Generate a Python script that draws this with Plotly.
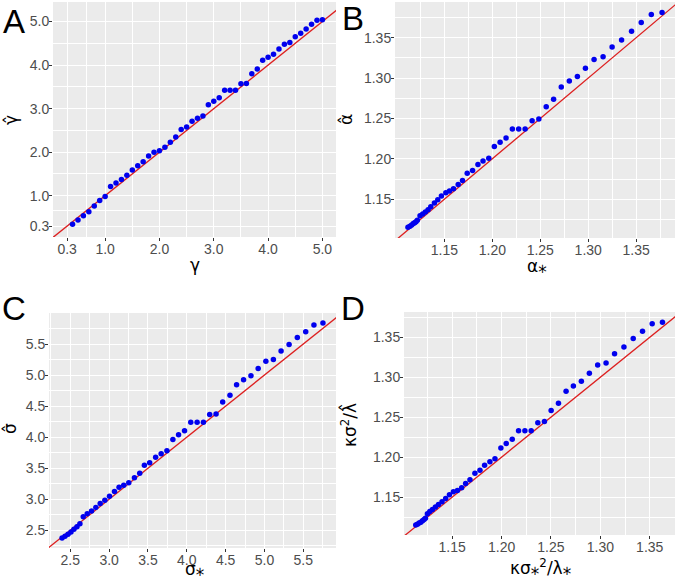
import plotly.graph_objects as go

# ---------------- data ----------------
gamma_true = [0.4, 0.5, 0.6, 0.7, 0.8, 0.9, 1.0, 1.1, 1.2, 1.3, 1.4, 1.5, 1.6, 1.7, 1.8, 1.9,
              2.0, 2.1, 2.2, 2.3, 2.4, 2.5, 2.6, 2.7, 2.8, 2.9, 3.0, 3.1, 3.2, 3.3, 3.4, 3.5,
              3.6, 3.7, 3.8, 3.9, 4.0, 4.1, 4.2, 4.3, 4.4, 4.5, 4.6, 4.7, 4.8, 4.9, 5.0]
gamma_hat = [0.345, 0.44, 0.54, 0.63, 0.76, 0.89, 0.98, 1.21, 1.29, 1.37, 1.47, 1.59, 1.69, 1.78,
             1.91, 2.00, 2.03, 2.11, 2.23, 2.35, 2.52, 2.58, 2.71, 2.78, 2.83, 3.09, 3.17, 3.25,
             3.42, 3.42, 3.42, 3.57, 3.58, 3.80, 3.91, 4.11, 4.18, 4.25, 4.37, 4.48, 4.52, 4.65,
             4.73, 4.83, 4.94, 5.03, 5.04]

alpha_true = [1.1120, 1.1141, 1.1159, 1.1176, 1.1190, 1.1204, 1.1218, 1.1246, 1.1274, 1.1302,
              1.1330, 1.1358, 1.1396, 1.1431, 1.1469, 1.1515, 1.1553, 1.1595, 1.1644, 1.1689,
              1.1738, 1.1794, 1.1850, 1.1903, 1.1963, 1.2021, 1.2081, 1.2143, 1.2209, 1.2275,
              1.2342, 1.2415, 1.2485, 1.2562, 1.2639, 1.2719, 1.2803, 1.2887, 1.2971, 1.3061,
              1.3155, 1.3249, 1.3348, 1.3452, 1.3553, 1.3658, 1.3770]
alpha_hat = [1.1152, 1.1164, 1.1181, 1.1198, 1.1210, 1.1222, 1.1239, 1.1296, 1.1317, 1.1342,
             1.1370, 1.1407, 1.1453, 1.1494, 1.1539, 1.1580, 1.1601, 1.1630, 1.1683, 1.1732,
             1.1823, 1.1856, 1.1930, 1.1972, 1.2006, 1.2152, 1.2206, 1.2259, 1.2370, 1.2370,
             1.2370, 1.2473, 1.2494, 1.2646, 1.2737, 1.2889, 1.2963, 1.3021, 1.3123, 1.3230,
             1.3263, 1.3386, 1.3473, 1.3580, 1.3688, 1.3786, 1.3811]

sigma_true = [2.394, 2.432, 2.471, 2.509, 2.547, 2.586, 2.624, 2.667, 2.718, 2.774, 2.829, 2.885,
              2.945, 3.005, 3.069, 3.128, 3.188, 3.253, 3.326, 3.394, 3.454, 3.522, 3.599, 3.670,
              3.744, 3.821, 3.894, 3.971, 4.051, 4.133, 4.214, 4.295, 4.377, 4.462, 4.556, 4.641,
              4.731, 4.826, 4.919, 5.018, 5.115, 5.214, 5.317, 5.423, 5.531, 5.637, 5.753]
sigma_hat = [2.377, 2.404, 2.436, 2.473, 2.516, 2.559, 2.607, 2.720, 2.768, 2.809, 2.869, 2.933,
             2.986, 3.050, 3.125, 3.194, 3.226, 3.264, 3.345, 3.418, 3.546, 3.590, 3.675, 3.734,
             3.782, 3.963, 4.038, 4.103, 4.242, 4.242, 4.242, 4.364, 4.375, 4.567, 4.674, 4.845,
             4.925, 4.989, 5.107, 5.224, 5.251, 5.389, 5.492, 5.604, 5.700, 5.806, 5.838]

ratio_true = [1.1131, 1.1148, 1.1165, 1.1182, 1.1199, 1.1215, 1.1229, 1.1249, 1.1273, 1.1300,
              1.1330, 1.1361, 1.1397, 1.1434, 1.1472, 1.1512, 1.1553, 1.1596, 1.1636, 1.1680,
              1.1730, 1.1781, 1.1828, 1.1882, 1.1933, 1.1993, 1.2047, 1.2108, 1.2172, 1.2236,
              1.2300, 1.2367, 1.2434, 1.2502, 1.2576, 1.2653, 1.2727, 1.2808, 1.2889, 1.2973,
              1.3058, 1.3144, 1.3239, 1.3333, 1.3427, 1.3525, 1.3629]
ratio_hat = [1.1150, 1.1162, 1.1175, 1.1187, 1.1204, 1.1220, 1.1237, 1.1291, 1.1320, 1.1345,
             1.1375, 1.1408, 1.1441, 1.1483, 1.1529, 1.1566, 1.1583, 1.1616, 1.1670, 1.1716,
             1.1800, 1.1837, 1.1900, 1.1941, 1.1979, 1.2116, 1.2170, 1.2225, 1.2329, 1.2329,
             1.2329, 1.2429, 1.2445, 1.2583, 1.2675, 1.2825, 1.2891, 1.2950, 1.3050, 1.3154,
             1.3179, 1.3295, 1.3379, 1.3483, 1.3575, 1.3670, 1.3688]

ticks_A = [0.3, 1.0, 2.0, 3.0, 4.0, 5.0]
labels_A = ["0.3", "1.0", "2.0", "3.0", "4.0", "5.0"]
ticks_B = [1.15, 1.20, 1.25, 1.30, 1.35]
labels_B = ["1.15", "1.20", "1.25", "1.30", "1.35"]
ticks_C = [2.5, 3.0, 3.5, 4.0, 4.5, 5.0, 5.5]
labels_C = ["2.5", "3.0", "3.5", "4.0", "4.5", "5.0", "5.5"]

# ---------------- layout helpers ----------------
W, H = 677, 579
BG = "#EBEBEB"
SANS = "Liberation Sans, Arial, sans-serif"
TICKFONT = dict(family=SANS, size=14, color="#4D4D4D")
TITLEFONT = dict(family="DejaVu Sans, " + SANS, size=17, color="black")


def xdom(p0, p1):
    return [p0 / W, p1 / W]


def ydom(p0, p1):
    return [1 - p1 / H, 1 - p0 / H]


def minors(vals, rng):
    out = [(a + b) / 2 for a, b in zip(vals[:-1], vals[1:])]
    step = vals[-1] - vals[-2]
    lo = vals[0] - (vals[1] - vals[0]) / 2
    hi = vals[-1] + step / 2
    if lo > rng[0]:
        out.insert(0, lo)
    if hi < rng[1]:
        out.append(hi)
    return out


panels = [
    dict(letter="A", x=gamma_true, y=gamma_hat, xpx=(53, 336), ypx=(2, 237),
         xr=[0.04, 5.25], yr=[0.05, 5.45], xt=(ticks_A, labels_A), yt=(ticks_A, labels_A),
         xtitle="γ", ytitle="γ\u0302", xtpos=(195, 265), ytpos=(11, 120), lpos=(14, 22)),
    dict(letter="B", x=alpha_true, y=alpha_hat, xpx=(395, 675), ypx=(2, 238),
         xr=[1.0985, 1.3905], yr=[1.1020, 1.3942], xt=(ticks_B, labels_B), yt=(ticks_B, labels_B),
         xtitle="α\u204e", ytitle="α\u0302", xtpos=(537, 266), ytpos=(346, 120), lpos=(353, 19)),
    dict(letter="C", x=sigma_true, y=sigma_hat, xpx=(49, 336), ypx=(313, 548),
         xr=[2.226, 5.921], yr=[2.215, 6.0], xt=(ticks_C, labels_C), yt=(ticks_C, labels_C),
         xtitle="σ\u204e", ytitle="σ\u0302", xtpos=(194, 569), ytpos=(10, 429), lpos=(14, 308)),
    dict(letter="D", x=ratio_true, y=ratio_hat, xpx=(404, 675), ypx=(312, 535),
         xr=[1.1012, 1.3756], yr=[1.1026, 1.3816], xt=(ticks_B, labels_B), yt=(ticks_B, labels_B),
         xtitle="κσ\u204e<sup>2</sup>/λ\u204e", ytitle="κσ<sup>2</sup>/λ\u0302",
         xtpos=(540, 567), ytpos=(349, 425), lpos=(353, 308)),
]

fig = go.Figure()
layout = dict(width=W, height=H, margin=dict(l=0, r=0, t=0, b=0),
              paper_bgcolor="white", plot_bgcolor=BG, showlegend=False, annotations=[])

for i, p in enumerate(panels, start=1):
    sfx = "" if i == 1 else str(i)
    xa, ya = "x" + sfx, "y" + sfx
    lo = min(min(p["x"]), min(p["y"]))
    hi = max(max(p["x"]), max(p["y"]))
    span = hi - lo
    fig.add_trace(go.Scatter(x=[lo - span, hi + span], y=[lo - span, hi + span], mode="lines",
                             line=dict(color="#DD2020", width=1.3), xaxis=xa, yaxis=ya,
                             hoverinfo="skip"))
    fig.add_trace(go.Scatter(x=p["x"], y=p["y"], mode="markers",
                             marker=dict(color="#0000EE", size=5.5), xaxis=xa, yaxis=ya))
    common = dict(showline=False, zeroline=False, showgrid=True, gridcolor="white", gridwidth=1.1,
                  ticks="outside", ticklen=3, tickwidth=1, tickcolor="#333333",
                  tickfont=TICKFONT, tickmode="array", automargin=False)
    layout["xaxis" + sfx] = dict(common, domain=xdom(*p["xpx"]), range=p["xr"], anchor=ya,
                                 tickvals=p["xt"][0], ticktext=p["xt"][1], ticklabelstandoff=-4,
                                 minor=dict(tickvals=minors(p["xt"][0], p["xr"]), showgrid=True,
                                            gridcolor="white", gridwidth=0.55, ticklen=0))
    layout["yaxis" + sfx] = dict(common, domain=ydom(*p["ypx"]), range=p["yr"], anchor=xa,
                                 tickvals=p["yt"][0], ticktext=p["yt"][1], ticklabelstandoff=-3,
                                 minor=dict(tickvals=minors(p["yt"][0], p["yr"]), showgrid=True,
                                            gridcolor="white", gridwidth=0.55, ticklen=0))
    layout["annotations"] += [
        dict(text=p["letter"], x=p["lpos"][0] / W, y=1 - p["lpos"][1] / H, xref="paper", yref="paper",
             showarrow=False, xanchor="center", yanchor="middle",
             font=dict(family=SANS, size=33, color="black")),
        dict(text=p["xtitle"], x=p["xtpos"][0] / W, y=1 - p["xtpos"][1] / H, xref="paper", yref="paper",
             showarrow=False, xanchor="center", yanchor="middle", font=TITLEFONT),
        dict(text=p["ytitle"], x=p["ytpos"][0] / W, y=1 - p["ytpos"][1] / H, xref="paper", yref="paper",
             showarrow=False, xanchor="center", yanchor="middle", textangle=-90, font=TITLEFONT),
    ]

fig.update_layout(**layout)
fig.write_html("out.html", config={"displayModeBar": False},
               post_script="document.body.style.margin='0';document.body.style.padding='0';")
